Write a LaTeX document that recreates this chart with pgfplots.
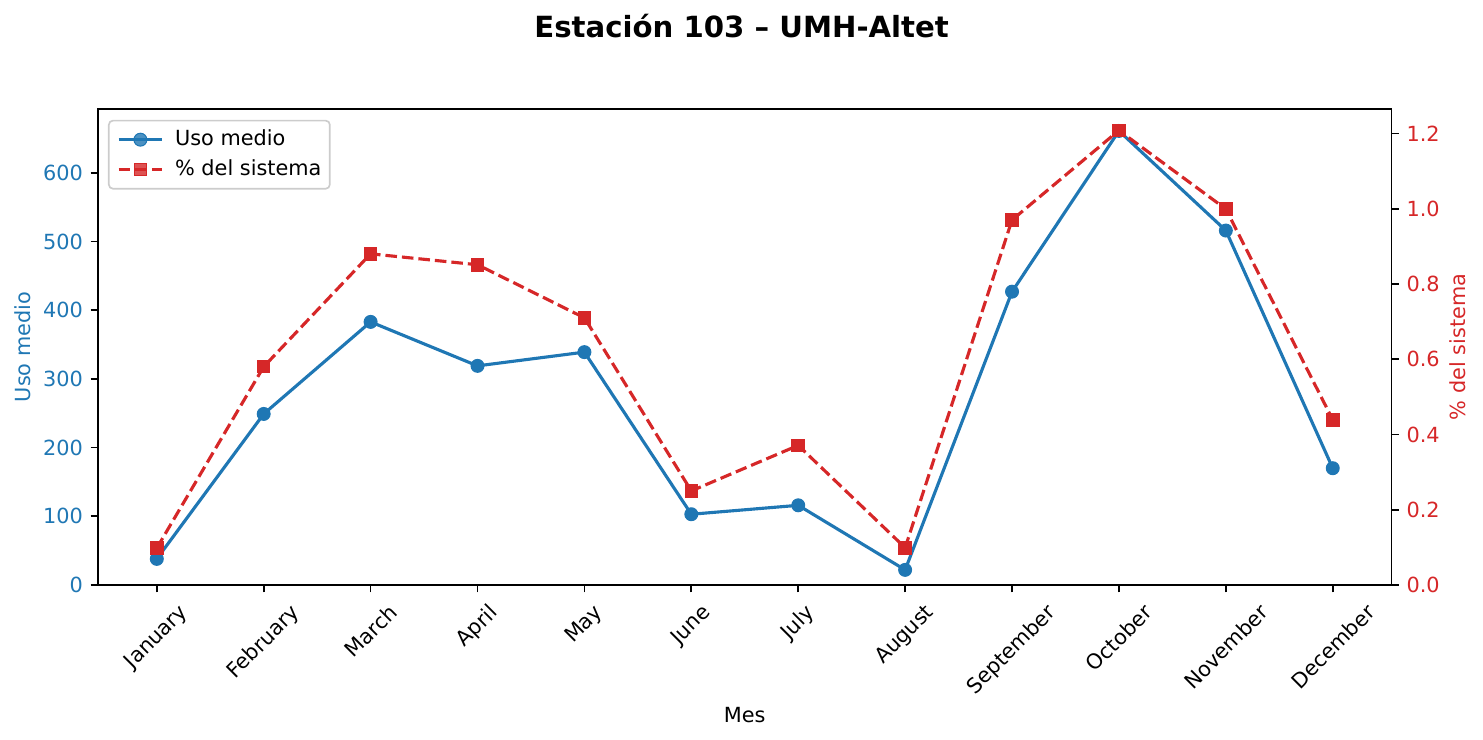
\documentclass[border=0pt]{standalone}
\usepackage{fontspec}
\setmainfont{DejaVu Sans}
\usepackage{graphicx}
\usepackage{pgfplots}
\usepackage{pgfplotstable}
\pgfplotsset{compat=1.18}

\definecolor{tabblue}{HTML}{1F77B4}
\definecolor{tabred}{HTML}{D62728}
\definecolor{framegray}{HTML}{CCCCCC}

% Monthly mean use and share of the whole system
\pgfplotstableread{
idx uso  pct
0   38   0.098
1   249  0.580
2   383  0.880
3   319  0.851
4   339  0.710
5   103  0.250
6   116  0.371
7   22   0.099
8   427  0.970
9   661  1.208
10  516  0.999
11  170  0.439
}\monthly

\pgfplotsset{
  twin/.style={
    width=620.9pt, height=228.5pt, scale only axis,
    xmin=-0.55, xmax=11.55,
    ymin=0,
    tick align=outside,
    major tick length=3.5pt,
    every tick/.style={black, line width=0.8pt},
    axis line style={line width=0.8pt},
    tick label style={font=\fontsize{10}{12}\selectfont},
    label style={font=\fontsize{10}{12}\selectfont},
    /pgf/number format/assume math mode=true,
  },
  bluestyle/.style={color=tabblue, line width=1.5pt, mark=*, mark size=3.1pt,
    mark options={solid, fill=tabblue, draw=tabblue, line width=0.5pt}},
  redstyle/.style={color=tabred, line width=1.5pt, dash pattern=on 5.55pt off 2.4pt,
    mark=square*, mark size=3pt,
    mark options={solid, fill=tabred, draw=tabred, line width=0.5pt}},
}

\begin{document}
\begin{tikzpicture}
\useasboundingbox (-47.04pt,-74.4pt) rectangle (664.8pt,280.8pt);
\begin{axis}[twin,
  ymax=693,
  xtick pos=bottom, ytick pos=left,
  xtick={0,...,11},
  xticklabels={\rotatebox{45}{January},\rotatebox{45}{February},\rotatebox{45}{March},
    \rotatebox{45}{April},\rotatebox{45}{May},\rotatebox{45}{June},\rotatebox{45}{July},
    \rotatebox{45}{August},\rotatebox{45}{September},\rotatebox{45}{October},
    \rotatebox{45}{November},\rotatebox{45}{December}},
  xticklabel style={anchor=north, inner sep=0pt, yshift=-4.8pt},
  ytick={0,100,200,300,400,500,600},
  yticklabel style={text=tabblue, anchor=east, inner sep=0pt, xshift=-3.5pt},
  ylabel={Uso medio},
  ylabel style={text=tabblue, at={(axis description cs:0,0.5)}, anchor=center, yshift=36pt},
  xlabel={Mes},
  xlabel style={at={(axis description cs:0.5,0)}, anchor=base, yshift=-65.8pt},
  title={\fontsize{14}{17}\selectfont\bfseries Estación 103 – UMH-Altet},
  title style={at={(axis description cs:0.5,1)}, anchor=base, inner sep=0pt, yshift=28.5pt, xshift=-1.5pt},
]
\addplot[bluestyle] table[x=idx, y=uso] {\monthly};
\end{axis}

\begin{axis}[twin,
  ymax=1.265,
  axis x line=none,
  axis y line*=right,
  ytick={0,0.2,0.4,0.6,0.8,1.0,1.2},
  yticklabel style={text=tabred, anchor=west, inner sep=0pt, xshift=3.5pt,
    /pgf/number format/.cd, fixed, fixed zerofill, precision=1},
  ylabel={\% del sistema},
  ylabel style={text=tabred, at={(axis description cs:1,0.5)}, anchor=center, yshift=-31.7pt},
  legend cell align=left,
  legend image code/.code={
    \draw[mark repeat=2, mark phase=2, #1] plot coordinates {(0pt,0pt) (10.4pt,0pt) (20.8pt,0pt)};
  },
  legend style={at={(axis description cs:0,1)}, anchor=north west,
    xshift=4.8pt, yshift=-5.2pt,
    draw=framegray, line width=0.8pt, rounded corners=2pt,
    fill=white, fill opacity=0.8, draw opacity=1, text opacity=1,
    font=\fontsize{10}{12}\selectfont,
    inner xsep=4pt, inner ysep=4.3pt, row sep=4.7pt, column sep=5.5pt,
    nodes={inner sep=0pt, text height=7.5pt, text depth=2.2pt}},
]
\addlegendimage{bluestyle}
\addlegendentry{Uso medio}
\addplot[redstyle] table[x=idx, y=pct] {\monthly};
\addlegendentry{\% del sistema}
\end{axis}
\end{tikzpicture}
\end{document}
